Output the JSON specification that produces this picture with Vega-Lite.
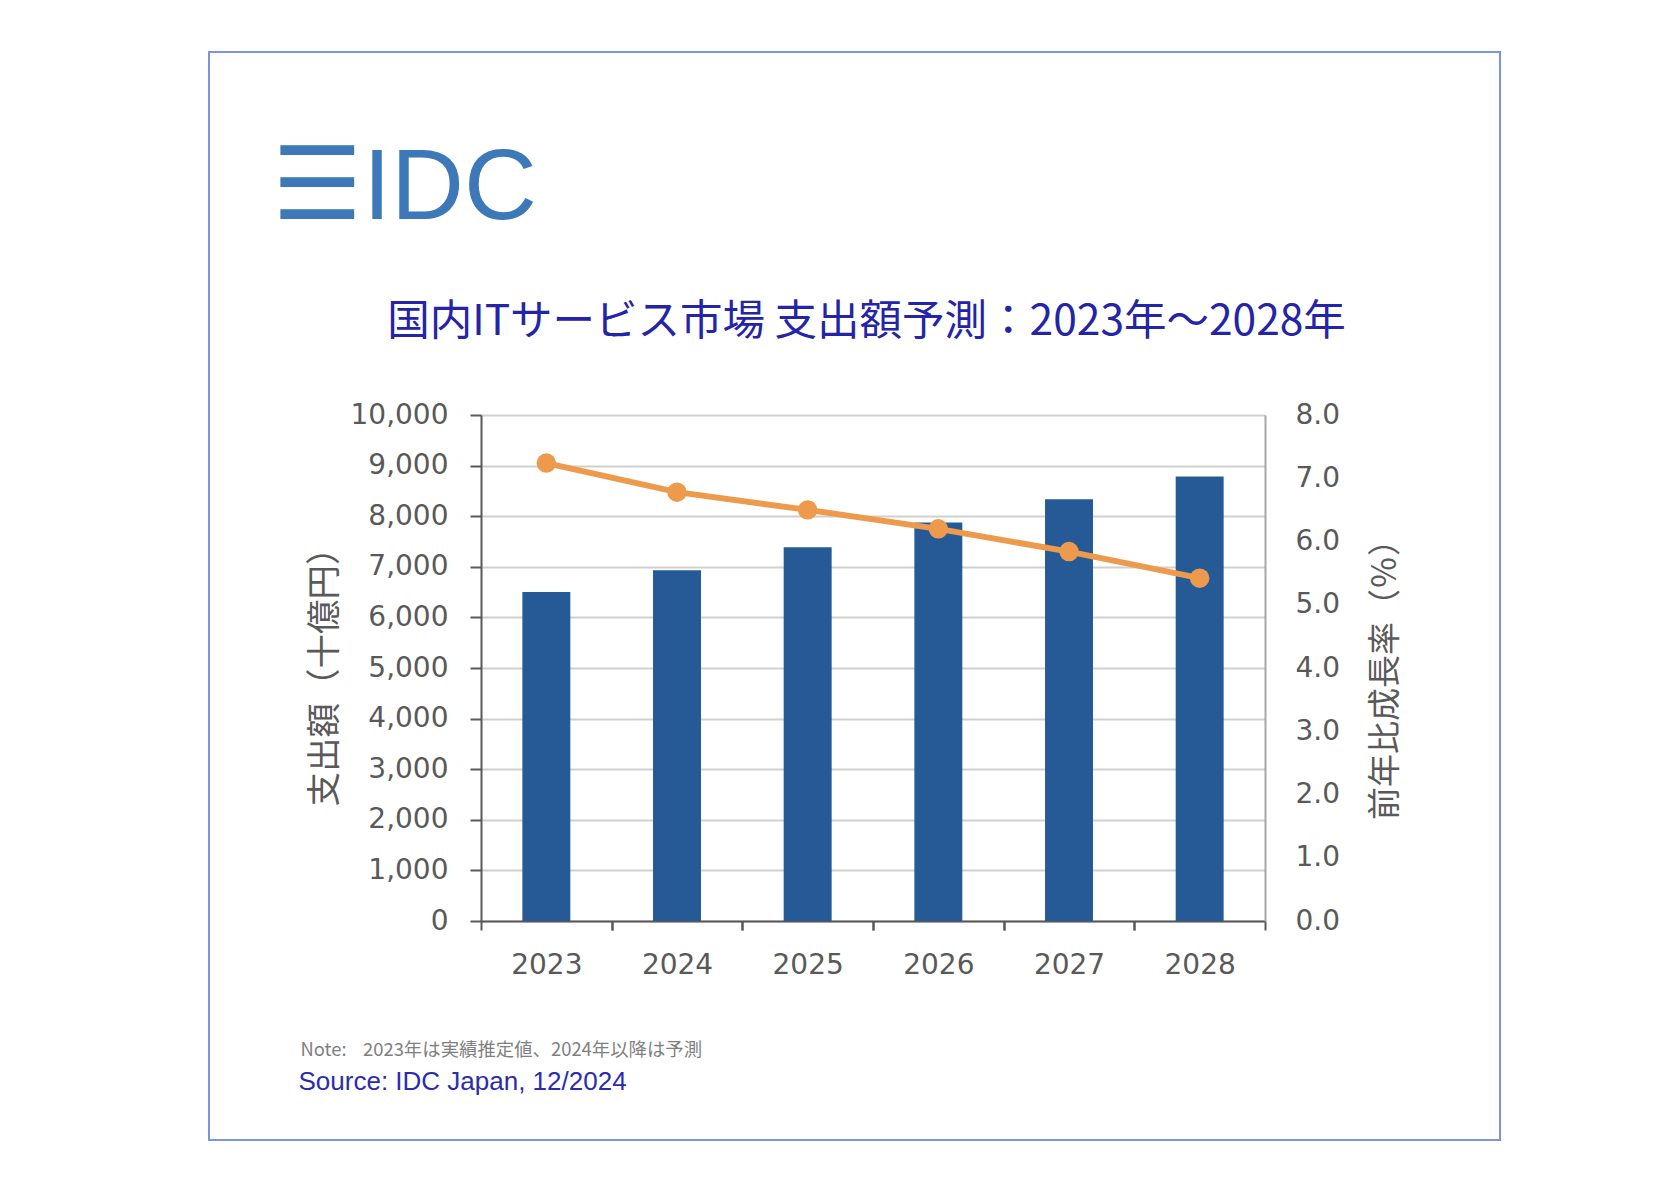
{
  "$schema": "https://vega.github.io/schema/vega-lite/v6.json",
  "width": 1291,
  "height": 1088,
  "autosize": "none",
  "padding": {"left": 209, "top": 52, "right": 170, "bottom": 38},
  "background": "white",
  "title": {
    "text": "☰IDC",
    "anchor": "start",
    "frame": "group",
    "dx": 63,
    "offset": -268,
    "baseline": "alphabetic",
    "font": "Liberation Sans",
    "fontSize": 101,
    "fontWeight": "normal",
    "color": "#3D78B8"
  },
  "data": {
    "values": [
      {"year": "2023", "spend": 6500, "growth": 7.24},
      {"year": "2024", "spend": 6930, "growth": 6.78},
      {"year": "2025", "spend": 7385, "growth": 6.50},
      {"year": "2026", "spend": 7875, "growth": 6.20},
      {"year": "2027", "spend": 8335, "growth": 5.84},
      {"year": "2028", "spend": 8785, "growth": 5.42}
    ]
  },
  "layer": [
    {
      "mark": {"type": "bar", "color": "#265A96"},
      "encoding": {
        "x": {
          "field": "year", "type": "ordinal",
          "scale": {"range": [272, 1056], "paddingInner": 0.633, "paddingOuter": 0.3165},
          "axis": {
            "orient": "bottom", "offset": -219,
            "grid": false,
            "domainColor": "#595959", "domainWidth": 2,
            "tickColor": "#595959", "tickWidth": 2, "tickSize": 9,
            "tickOffset": -65.33, "labelOffset": 65.33,
            "labelFont": "DejaVu Sans", "labelFontSize": 28, "labelColor": "#595959", "labelPadding": 21, "labelAngle": 0,
            "title": "Note:\u00a0\u00a0\u00a0 2023年は実績推定値、2024年以降は予測",
            "titleFont": "Noto Sans CJK JP", "titleFontSize": 18.4, "titleFontWeight": "normal", "titleColor": "#7F7F7F",
            "titleAnchor": "start", "titleAlign": "left", "titleBaseline": "middle",
            "titleX": 91, "titleY": 128
          }
        },
        "y": {
          "field": "spend", "type": "quantitative",
          "scale": {"domain": [0, 10000], "range": [869, 363], "nice": false, "zero": true},
          "axis": {
            "orient": "left", "offset": -272,
            "values": [0, 1000, 2000, 3000, 4000, 5000, 6000, 7000, 8000, 9000, 10000],
            "format": ",d",
            "grid": true, "gridColor": "#D0D0D0", "gridWidth": 2,
            "domainColor": "#595959", "domainWidth": 2,
            "tickColor": "#595959", "tickWidth": 2, "tickSize": 11,
            "labelFont": "DejaVu Sans", "labelFontSize": 28, "labelColor": "#595959", "labelPadding": 22,
            "title": "支出額（十億円）",
            "titleFont": "Noto Sans CJK JP", "titleFontSize": 34.5, "titleFontWeight": "normal", "titleColor": "#595959",
            "titleAngle": -90, "titleAlign": "center", "titleBaseline": "middle",
            "titleX": -156, "titleY": 616
          }
        }
      }
    },
    {
      "mark": {"type": "line", "color": "#EE9A4D", "strokeWidth": 6},
      "encoding": {
        "x": {
          "field": "year", "type": "ordinal",
          "axis": {
            "orient": "top", "offset": 0,
            "domain": false, "ticks": false, "labels": false, "grid": false,
            "title": "国内ITサービス市場 支出額予測：2023年～2028年",
            "titleFont": "Noto Sans CJK JP", "titleFontSize": 42.5, "titleFontWeight": "normal", "titleColor": "#2424A8",
            "titleAlign": "center", "titleBaseline": "middle",
            "titleX": 657, "titleY": 269
          }
        },
        "y": {
          "field": "growth", "type": "quantitative",
          "scale": {"domain": [0, 8], "range": [869, 363], "nice": false, "zero": true},
          "axis": {
            "orient": "right", "offset": -235,
            "values": [0, 1, 2, 3, 4, 5, 6, 7, 8],
            "format": ".1f",
            "grid": false, "ticks": false,
            "domainColor": "#A6A6A6", "domainWidth": 2,
            "labelFont": "DejaVu Sans", "labelFontSize": 28, "labelColor": "#595959", "labelPadding": 30,
            "title": "前年比成長率（％）",
            "titleFont": "Noto Sans CJK JP", "titleFontSize": 33, "titleFontWeight": "normal", "titleColor": "#595959",
            "titleAngle": 270, "titleAlign": "center", "titleBaseline": "middle",
            "titleX": 120, "titleY": 619
          }
        }
      }
    },
    {
      "mark": {"type": "circle", "color": "#EE9A4D", "opacity": 1, "size": 380},
      "encoding": {
        "x": {
          "field": "year", "type": "ordinal",
          "axis": {
            "orient": "bottom", "offset": -219,
            "domain": false, "labels": false, "grid": false,
            "ticks": true, "tickColor": "#595959", "tickWidth": 2, "tickSize": 9, "tickOffset": 65.33,
            "title": "Source: IDC Japan, 12/2024",
            "titleFont": "Liberation Sans", "titleFontSize": 26, "titleFontWeight": "normal", "titleColor": "#2B2BB0",
            "titleAnchor": "start", "titleAlign": "left", "titleBaseline": "middle",
            "titleX": 89, "titleY": 160
          }
        },
        "y": {
          "field": "growth", "type": "quantitative",
          "scale": {"domain": [0, 8], "range": [869, 363], "nice": false, "zero": true},
          "axis": null
        }
      }
    }
  ],
  "resolve": {
    "scale": {"y": "independent"},
    "axis": {"x": "independent", "y": "independent"}
  },
  "config": {
    "view": {"stroke": "#7B96D6", "strokeWidth": 2, "fill": "white"}
  }
}
